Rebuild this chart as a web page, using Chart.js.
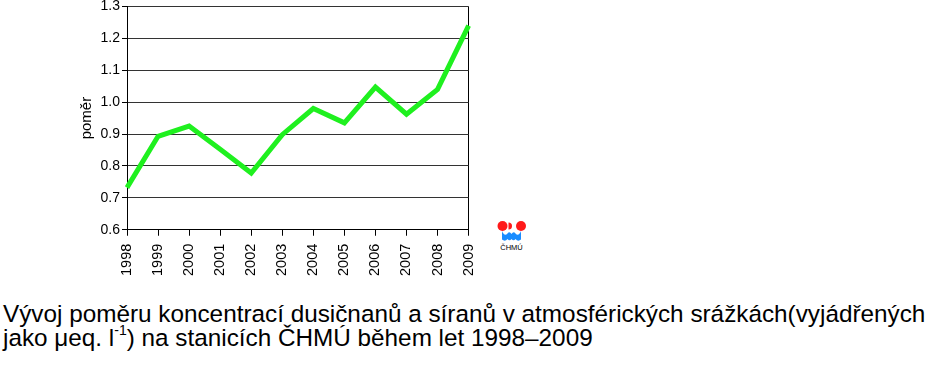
<!DOCTYPE html>
<html>
<head>
<meta charset="utf-8">
<script src="https://cdn.jsdelivr.net/npm/chart.js@4/dist/chart.umd.min.js"></script>
<style>
  html, body { margin:0; padding:0; background:#fff; width:950px; height:371px; overflow:hidden; }
  #wrap { position:absolute; left:0; top:-4px; width:494px; height:288px; }
  #caption { position:absolute; left:3px; top:302px; font-family:"Liberation Sans", Arial, sans-serif; font-size:24.3px; line-height:23.5px; color:#000; white-space:nowrap; }
  #caption sup { font-size:14px; line-height:10px; position:relative; top:-1px; vertical-align:top; }
  #logo { position:absolute; left:494px; top:217px; }
</style>
</head>
<body>
<div id="wrap"><canvas id="c" width="494" height="288"></canvas></div>
<svg id="logo" width="36" height="36" viewBox="0 0 36 36">
  <circle cx="8.5" cy="9" r="5" fill="#ff1a1a"/>
  <path d="M14.5 5.5 A3.5 3.5 0 0 1 14.5 12.5 Z" fill="#ff1a1a"/>
  <circle cx="27" cy="9" r="5" fill="#ff1a1a"/>
  <path d="M8 14 Q10.5 20 13.5 16.5 Q15.5 14 17.5 17 Q19.5 14 21.5 16.5 Q24.5 20 27 14 L27 22.5 Q24 25 21.5 22 Q19.5 24.5 17.5 22 Q15.5 24.5 13.5 22 Q11 25 8 22.5 Z" fill="#1a8cff"/>
  <text x="17.5" y="33" font-family="Liberation Sans, Arial, sans-serif" font-size="7.5" text-anchor="middle" fill="#000">ČHMÚ</text>
</svg>
<div id="caption">Vývoj poměru koncentrací dusičnanů a síranů v atmosférických srážkách(vyjádřených<br>jako μeq. l<sup>-1</sup>) na stanicích ČHMÚ během let 1998–2009</div>
<script>
const years = ['1998','1999','2000','2001','2002','2003','2004','2005','2006','2007','2008','2009'];
const ratio = [0.732, 0.893, 0.925, 0.852, 0.778, 0.898, 0.980, 0.935, 1.047, 0.962, 1.040, 1.240];
const yTicks = [0.6, 0.7, 0.8, 0.9, 1.0, 1.1, 1.2, 1.3];
const yTitle = 'poměr';

const FONT = '"Liberation Sans", Arial, sans-serif';

new Chart(document.getElementById('c'), {
  type: 'line',
  data: {
    labels: years,
    datasets: [{
      data: ratio,
      borderColor: '#1ff01f',
      borderWidth: 5,
      pointRadius: 0,
      tension: 0,
      fill: false,
      borderCapStyle: 'butt',
      borderJoinStyle: 'miter'
    }]
  },
  options: {
    responsive: false,
    animation: false,
    devicePixelRatio: 1,
    layout: { padding: { top: 3, right: 20, left: 78, bottom: 0 } },
    plugins: { legend: { display: false }, tooltip: { enabled: false } },
    scales: {
      x: {
        offset: false,
        grid: {
          color: (ctx) => ctx.index === years.length - 1 ? '#000' : 'rgba(0,0,0,0)',
          tickColor: '#000',
          tickLength: 6,
          drawOnChartArea: true,
          lineWidth: 1
        },
        border: { display: true, color: '#000', width: 1 },
        ticks: {
          color: '#000',
          font: { family: FONT, size: 14.5 },
          minRotation: 90,
          maxRotation: 90,
          padding: 8,
          autoSkip: false
        }
      },
      y: {
        min: 0.6,
        max: 1.3,
        afterBuildTicks: (axis) => { axis.ticks = yTicks.map(v => ({ value: v })); },
        afterFit: (axis) => { axis.width = 49; },
        grid: { color: '#333', lineWidth: 1, tickColor: '#000', tickLength: 5, drawTicks: true },
        border: { display: true, color: '#000', width: 1 },
        ticks: {
          color: '#000',
          font: { family: FONT, size: 14 },
          padding: 2,
          callback: (v) => Number(v).toFixed(1)
        },
        title: {
          display: true,
          text: yTitle,
          color: '#000',
          font: { family: FONT, size: 15 },
          padding: { top: 0, bottom: 4 }
        }
      }
    }
  }
});
</script>
</body>
</html>
